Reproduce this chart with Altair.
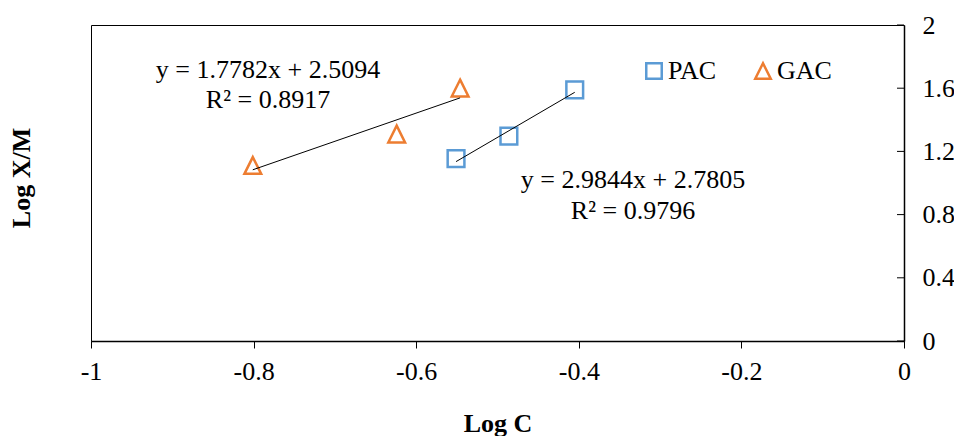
import altair as alt
import pandas as pd

# ---- data ----
series = ["PAC", "PAC", "PAC", "GAC", "GAC", "GAC"]
log_c = [-0.551, -0.486, -0.405, -0.801, -0.624, -0.546]
log_xm = [1.154, 1.297, 1.589, 1.111, 1.310, 1.601]

x_ticks = [-1, -0.8, -0.6, -0.4, -0.2, 0]
y_ticks = [0, 0.4, 0.8, 1.2, 1.6, 2]

gac_eq = ["y = 1.7782x + 2.5094", "R\u00b2 = 0.8917"]
pac_eq = ["y = 2.9844x + 2.7805", "R\u00b2 = 0.9796"]

FONT = "Liberation Serif"
W, H = 813, 316
FS = 26

df = pd.DataFrame({"series": series, "logC": log_c, "logXM": log_xm})
ticks_df = pd.DataFrame({"logXM": y_ticks})
one = pd.DataFrame({"a": [0]})

xscale = alt.Scale(domain=[-1, 0], nice=False, zero=False)
yscale = alt.Scale(domain=[0, 2], nice=False, zero=False)
tri = "M0,-1L1,1L-1,1Z"

xaxis = alt.Axis(values=x_ticks, labelExpr="toString(datum.value)", title="Log C",
                 orient="bottom", grid=False, tickSize=7, tickColor="black", tickWidth=1,
                 domainColor="black", domainWidth=1.5, labelPadding=10, titlePadding=26,
                 labelFontSize=FS, titleFontSize=FS, titleFontWeight="bold",
                 labelFlush=False)
yaxis = alt.Axis(values=y_ticks, labelExpr="toString(datum.value)", title=None,
                 orient="right", grid=False, ticks=False, domainColor="black",
                 domainWidth=1.5, labelPadding=18, labelAlign="left",
                 labelBaseline="middle", labelFontSize=FS, labelFlush=False)

leg = alt.Legend(title=None, orient="none", legendX=550, legendY=33,
                 direction="horizontal", labelFontSize=FS, labelFont=FONT,
                 labelColor="black", symbolSize=240, symbolStrokeWidth=2.5,
                 labelOffset=1, columnPadding=33, padding=0)

points = alt.Chart(df).mark_point(filled=False, strokeWidth=2.5, opacity=1, size=280).encode(
    x=alt.X("logC:Q", scale=xscale, axis=xaxis),
    y=alt.Y("logXM:Q", scale=yscale, axis=yaxis),
    color=alt.Color("series:N", scale=alt.Scale(domain=["PAC", "GAC"], range=["#5B9BD5", "#ED7D31"]),
                    legend=leg),
    shape=alt.Shape("series:N", scale=alt.Scale(domain=["PAC", "GAC"], range=["square", tri]),
                    legend=leg),
)

trend = alt.Chart(df).transform_regression(
    "logC", "logXM", groupby=["series"]
).mark_line(color="black", strokeWidth=1).encode(
    x=alt.X("logC:Q", scale=xscale),
    y=alt.Y("logXM:Q", scale=yscale),
    detail="series:N",
)

inner_ticks = alt.Chart(ticks_df).mark_rule(color="black", strokeWidth=1).encode(
    y=alt.Y("logXM:Q", scale=yscale),
    x=alt.value(W - 7),
    x2=alt.value(W),
)

eq1 = alt.Chart(one).mark_text(text=gac_eq, font=FONT, fontSize=FS, align="center",
                               baseline="top", lineHeight=30, color="black").encode(
    x=alt.value(177), y=alt.value(32))
eq2 = alt.Chart(one).mark_text(text=pac_eq, font=FONT, fontSize=FS, align="center",
                               baseline="top", lineHeight=31, color="black").encode(
    x=alt.value(542), y=alt.value(142))

ytitle = alt.Chart(one).mark_text(text="Log X/M", font=FONT, fontSize=FS, fontWeight="bold",
                                  align="center", baseline="middle", angle=270,
                                  color="black").encode(
    x=alt.value(-69), y=alt.value(153))

chart = alt.layer(points, trend, inner_ticks, eq1, eq2, ytitle).properties(
    width=W, height=H,
    autosize=alt.AutoSizeParams(type="none"),
    padding={"left": 83, "top": 17, "right": 50, "bottom": 95},
    background="white",
).configure_view(stroke="black", strokeWidth=1).configure_axis(
    labelFont=FONT, titleFont=FONT, labelColor="black", titleColor="black"
)

chart.save("out.html", embed_options={"renderer": "svg", "actions": False})
